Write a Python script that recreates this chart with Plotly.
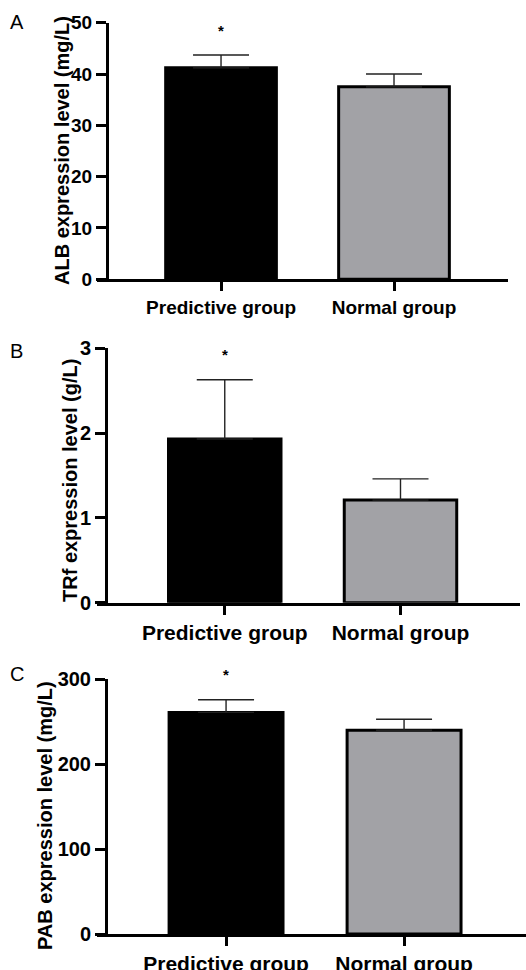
import plotly.graph_objects as go

groups = ["Predictive group", "Normal group"]

alb_mean = [41.2, 37.5]
alb_sd = [2.5, 2.5]
trf_mean = [1.93, 1.21]
trf_sd = [0.70, 0.25]
pab_mean = [261, 240]
pab_sd = [15, 13]

panel_letters = ["A", "B", "C"]
y_titles = ["ALB expression level (mg/L)", "TRf expression level (g/L)", "PAB expression level (mg/L)"]
y_ranges = [[0, 50], [0, 3], [0, 300]]
y_dticks = [10, 1, 100]

W, H = 526, 970
FONT = "Liberation Sans, Arial, Noto Sans CJK SC, sans-serif"
bar_colors = ["#000000", "#a2a2a6"]

panels = [
    dict(x0=97, x1=508, yaxis_x=107, ytop=22.7, ybot=279.3, xr=[-0.717, 1.659], xfs=19, yfs=19,
         title_x=62, title_y=151, letter_y=9),
    dict(x0=97, x1=520, yaxis_x=106, ytop=348.3, ybot=602.7, xr=[-0.727, 1.68], xfs=21, yfs=20,
         title_x=70, title_y=481, letter_y=338),
    dict(x0=97, x1=526, yaxis_x=106, ytop=679.3, ybot=934.0, xr=[-0.725, 1.685], xfs=21, yfs=20,
         title_x=45, title_y=816, letter_y=661),
]
means = [alb_mean, trf_mean, pab_mean]
sds = [alb_sd, trf_sd, pab_sd]

fig = go.Figure()
annotations = []
for i, p in enumerate(panels):
    n = "" if i == 0 else str(i + 1)
    fig.add_trace(go.Bar(
        x=groups, y=means[i],
        xaxis="x" + n, yaxis="y" + n,
        width=0.64,
        marker=dict(color=bar_colors, line=dict(color="black", width=3)),
        error_y=dict(type="data", array=sds[i], arrayminus=[0, 0], symmetric=False,
                     color="#222222", thickness=1.4, width=28),
        showlegend=False, hoverinfo="skip",
    ))
    fig.layout["xaxis" + n] = dict(
        domain=[p["x0"] / W, p["x1"] / W], anchor="y" + n, type="category",
        range=p["xr"], showline=True, linewidth=3, linecolor="black",
        ticks="outside", ticklen=9, tickwidth=3, tickcolor="black",
        showgrid=False, zeroline=False, fixedrange=True, automargin=False,
        tickfont=dict(family=FONT, size=p["xfs"], color="black", weight="bold"),
    )
    fig.layout["yaxis" + n] = dict(
        domain=[1 - p["ybot"] / H, 1 - p["ytop"] / H], anchor="free",
        position=p["yaxis_x"] / W, range=y_ranges[i], dtick=y_dticks[i],
        showline=True, linewidth=3, linecolor="black",
        ticks="outside", ticklen=10, tickwidth=3, tickcolor="black",
        showgrid=False, zeroline=False, fixedrange=True, automargin=False,
        tickfont=dict(family=FONT, size=p["yfs"], color="black", weight="bold"),
    )
    annotations.append(dict(
        x=groups[0], y=means[i][0] + sds[i][0], xref="x" + n, yref="y" + n,
        text="*", showarrow=False, yshift=25, yanchor="middle",
        font=dict(family=FONT, size=15, color="black", weight="bold"),
    ))
    annotations.append(dict(
        x=p["title_x"] / W, y=1 - p["title_y"] / H, xref="paper", yref="paper",
        text=y_titles[i], textangle=-90, showarrow=False,
        xanchor="center", yanchor="middle",
        font=dict(family=FONT, size=20, color="black", weight="bold"),
    ))
    annotations.append(dict(
        x=8 / W, y=1 - p["letter_y"] / H, xref="paper", yref="paper",
        text=panel_letters[i], showarrow=False, xanchor="left", yanchor="top",
        font=dict(family=FONT, size=20, color="black"),
    ))

fig.update_layout(
    width=W, height=H,
    margin=dict(l=0, r=0, t=0, b=0, autoexpand=False),
    paper_bgcolor="white", plot_bgcolor="white",
    annotations=annotations,
    bargap=0.3,
)

fig.write_html("out.html", config={"displayModeBar": False},
               post_script="document.body.style.margin='0';document.body.style.overflow='hidden';")
